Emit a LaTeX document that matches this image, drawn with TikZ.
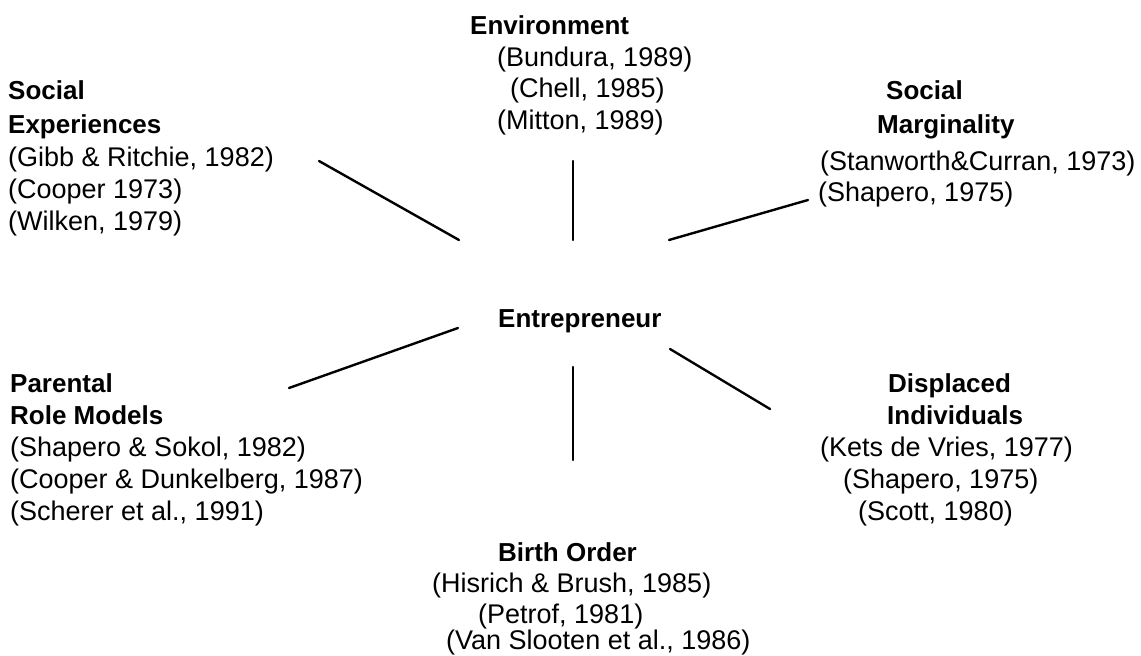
\documentclass[tikz,border=0pt]{standalone}
\usepackage{fontspec}
\setmainfont{Liberation Sans}
\begin{document}
\begin{tikzpicture}[x=1pt,y=-1pt,
  lbl/.style={inner sep=0pt,anchor=base west,font=\fontsize{27}{32}\selectfont},
  hd/.style={lbl,font=\fontsize{26}{31}\selectfont\bfseries},
  link/.style={line width=2.4pt,line cap=round}]
\useasboundingbox (0,0) rectangle (1141,656);

% Social experiences
\node[hd]  (se1) at (8,99)   {Social};
\node[hd]  (se2) at (8,133)  {Experiences};
\node[lbl] (se3) at (8,166)  {(Gibb \& Ritchie, 1982)};
\node[lbl] (se4) at (8,198)  {(Cooper 1973)};
\node[lbl] (se5) at (8,230)  {(Wilken, 1979)};

% Environment
\node[hd]  (en1) at (470,34)  {Environment};
\node[lbl] (en2) at (497,66)  {(Bundura, 1989)};
\node[lbl] (en3) at (510,97)  {(Chell, 1985)};
\node[lbl] (en4) at (497,129) {(Mitton, 1989)};

% Social marginality
\node[hd]  (sm1) at (886,99)  {Social};
\node[hd]  (sm2) at (877,133) {Marginality};
\node[lbl] (sm3) at (820,170) {(Stanworth\&Curran, 1973)};
\node[lbl] (sm4) at (818,201) {(Shapero, 1975)};

% Centre
\node[hd] (ent) at (498,327) {Entrepreneur};

% Parental role models
\node[hd]  (pr1) at (10,392) {Parental};
\node[hd]  (pr2) at (10,424) {Role Models};
\node[lbl] (pr3) at (10,456) {(Shapero \& Sokol, 1982)};
\node[lbl] (pr4) at (10,488) {(Cooper \& Dunkelberg, 1987)};
\node[lbl] (pr5) at (10,520) {(Scherer et al., 1991)};

% Displaced individuals
\node[hd]  (di1) at (888,392) {Displaced};
\node[hd]  (di2) at (887,424) {Individuals};
\node[lbl] (di3) at (820,456) {(Kets de Vries, 1977)};
\node[lbl] (di4) at (843,488) {(Shapero, 1975)};
\node[lbl] (di5) at (858,520) {(Scott, 1980)};

% Birth order
\node[hd]  (bo1) at (498,561) {Birth Order};
\node[lbl] (bo2) at (432,592) {(Hisrich \& Brush, 1985)};
\node[lbl] (bo3) at (478,623) {(Petrof, 1981)};
\node[lbl] (bo4) at (446,649) {(Van Slooten et al., 1986)};

% Spoke ends
\coordinate (a1) at (319,161); \coordinate (a2) at (459,240);
\coordinate (b1) at (573,161); \coordinate (b2) at (573,240);
\coordinate (c1) at (808,200); \coordinate (c2) at (669,240);
\coordinate (d1) at (289,388); \coordinate (d2) at (458,328);
\coordinate (e1) at (573,367); \coordinate (e2) at (573,460);
\coordinate (f1) at (670,349); \coordinate (f2) at (770,409);

\draw[link] (a1) -- (a2);
\draw[link] (b1) -- (b2);
\draw[link] (c1) -- (c2);
\draw[link] (d1) -- (d2);
\draw[link] (e1) -- (e2);
\draw[link] (f1) -- (f2);
\end{tikzpicture}
\end{document}
